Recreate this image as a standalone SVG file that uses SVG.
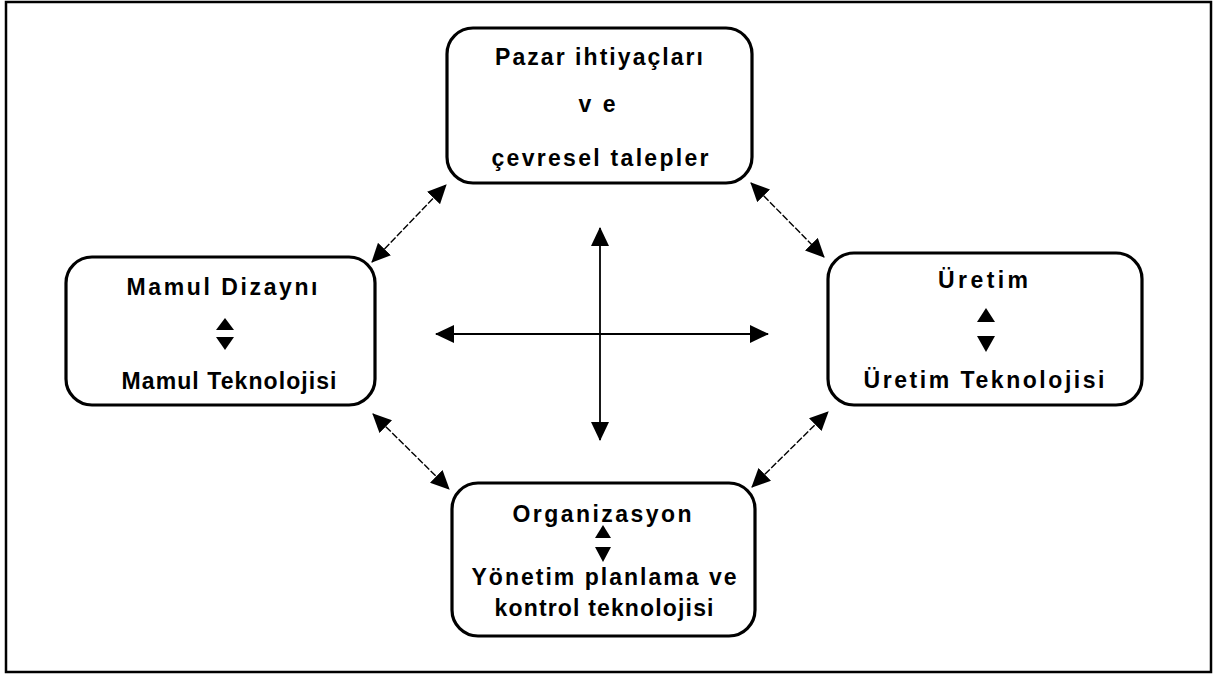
<svg xmlns="http://www.w3.org/2000/svg" width="1218" height="675" viewBox="0 0 1218 675">
<style>
.frame{fill:none;stroke:#000;stroke-width:2.5}
.box{fill:#fff;stroke:#000;stroke-width:3.2}
.lbl{font-family:"Liberation Sans",Arial,sans-serif;font-size:23px;font-weight:bold;fill:#000;text-anchor:middle}
.diag{fill:none;stroke:#000;stroke-width:1.4;stroke-dasharray:7 2}
.cross{fill:none;stroke:#000;stroke-width:1.8}
.tri{fill:#000}
</style>
<defs>
<marker id="ah" markerUnits="userSpaceOnUse" markerWidth="20" markerHeight="18" viewBox="0 0 20 18" refX="18" refY="9" orient="auto-start-reverse">
<path d="M0,0 L19,9 L0,18 Z" fill="#000"/>
</marker>
</defs>
<rect class="frame" x="6" y="2" width="1205" height="670"/>

<g id="connectors">
<line class="diag" x1="372" y1="262" x2="446" y2="185" marker-start="url(#ah)" marker-end="url(#ah)"/>
<line class="diag" x1="751" y1="183" x2="824" y2="257" marker-start="url(#ah)" marker-end="url(#ah)"/>
<line class="diag" x1="373" y1="414" x2="449" y2="489" marker-start="url(#ah)" marker-end="url(#ah)"/>
<line class="diag" x1="752" y1="487" x2="828" y2="412" marker-start="url(#ah)" marker-end="url(#ah)"/>
<line class="cross" x1="600" y1="228" x2="600" y2="440" marker-start="url(#ah)" marker-end="url(#ah)"/>
<line class="cross" x1="436" y1="334" x2="768" y2="334" marker-start="url(#ah)" marker-end="url(#ah)"/>
</g>

<g id="node-pazar">
<rect class="box" x="447" y="28" width="305" height="155" rx="26" ry="26"/>
<text class="lbl" x="599" y="65" textLength="208" lengthAdjust="spacing">Pazar ihtiyaçları</text>
<text class="lbl" x="597" y="112" textLength="37" lengthAdjust="spacing">ve</text>
<text class="lbl" x="600" y="166" textLength="217" lengthAdjust="spacing">çevresel talepler</text>
</g>

<g id="node-mamul">
<rect class="box" x="66" y="257" width="309" height="148" rx="26" ry="26"/>
<text class="lbl" x="222" y="295" textLength="191" lengthAdjust="spacing">Mamul Dizaynı</text>
<path class="tri" d="M216,330 L225,318 L234,330 Z"/>
<path class="tri" d="M216,337 L234,337 L225,350 Z"/>
<text class="lbl" x="229" y="389" textLength="215" lengthAdjust="spacing">Mamul Teknolojisi</text>
</g>

<g id="node-uretim">
<rect class="box" x="828" y="253" width="314" height="152" rx="26" ry="26"/>
<text class="lbl" x="983" y="288" textLength="90" lengthAdjust="spacing">Üretim</text>
<path class="tri" d="M977,322 L986,308 L995,322 Z"/>
<path class="tri" d="M977,336 L995,336 L986,352 Z"/>
<text class="lbl" x="984" y="388" textLength="241" lengthAdjust="spacing">Üretim Teknolojisi</text>
</g>

<g id="node-organizasyon">
<rect class="box" x="452" y="483" width="303" height="153" rx="26" ry="26"/>
<text class="lbl" x="602" y="522" textLength="179" lengthAdjust="spacing">Organizasyon</text>
<path class="tri" d="M595,538 L603,525 L611,538 Z"/>
<path class="tri" d="M595,547 L611,547 L603,562 Z"/>
<text class="lbl" x="604" y="585" textLength="265" lengthAdjust="spacing">Yönetim planlama ve</text>
<text class="lbl" x="604" y="616" textLength="219" lengthAdjust="spacing">kontrol teknolojisi</text>
</g>
</svg>
